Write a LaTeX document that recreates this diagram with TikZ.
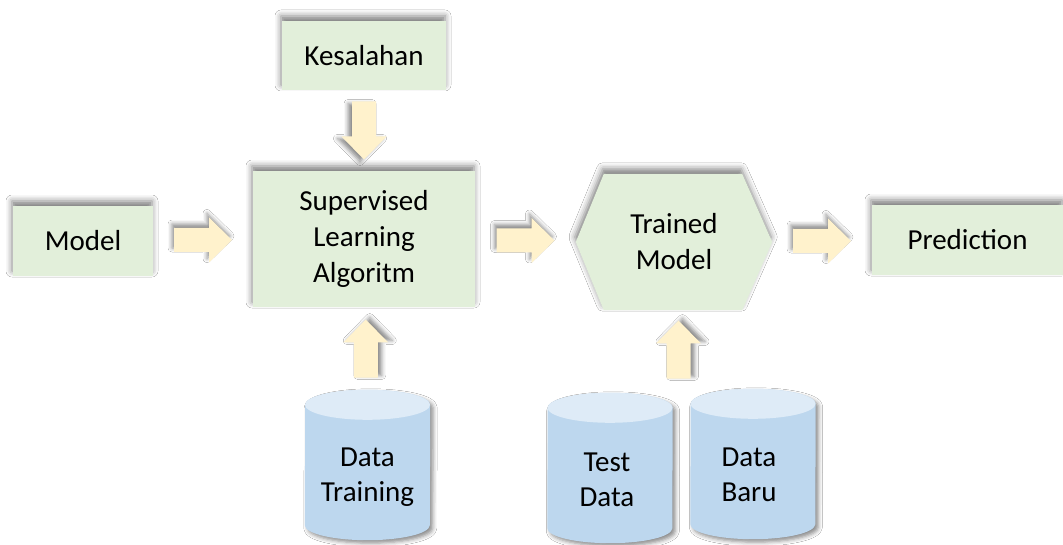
\documentclass[tikz,border=0pt]{standalone}
\usepackage{fontspec}
\setmainfont{Carlito}
\usetikzlibrary{shadows.blur,calc}
\definecolor{boxgreen}{HTML}{E2EFDA}
\definecolor{arrowyellow}{HTML}{FFF2CC}
\definecolor{cylbody}{HTML}{BDD7EE}
\definecolor{cyltop}{HTML}{DEEBF7}
\tikzset{
 gshadow/.style={blur shadow={shadow xshift=-1pt, shadow yshift=5pt, shadow blur radius=6pt, shadow opacity=50}},
 gbox/.style={fill=boxgreen, draw=none, gshadow, font=\fontsize{29}{36}\selectfont, align=center, inner sep=0pt},
 holder/.style={draw=none, fill=none, inner sep=0pt},
 glabel/.style={font=\fontsize{29}{36}\selectfont, align=center, inner sep=0pt},
 dlabel/.style={font=\fontsize{29}{35}\selectfont, align=center, inner sep=0pt},
 pics/blockarr/.style n args={2}{code={
   \fill[arrowyellow, blur shadow={shadow xshift=#1pt, shadow yshift=#2pt, shadow blur radius=4pt, shadow opacity=45}]
     (-29,-12) -- (6,-12) -- (6,-22.5) -- (29,0) -- (6,22.5) -- (6,12) -- (-29,12) -- cycle;}}
}
\newcommand\drawdb[1]{%
  \fill[cylbody, blur shadow={shadow xshift=3pt, shadow yshift=-3pt, shadow blur radius=4pt, shadow opacity=45}]
    ($(#1.south west)+(0,-15)$) arc[start angle=180, end angle=360, x radius=62.5pt, y radius=15pt]
    -- ($(#1.north east)+(0,15)$) arc[start angle=0, end angle=180, x radius=62.5pt, y radius=15pt] -- cycle;
  \fill[cyltop] ($(#1.north)+(0,15)$) ellipse[x radius=62.5pt, y radius=15pt];
}
\begin{document}
\begin{tikzpicture}[x=1pt,y=-1pt]
\useasboundingbox (0,0) rectangle (1063,545);
\fill[white] (0,0) rectangle (1063,545);
% placeholders for drawn shapes
\node[holder, minimum width=196pt, minimum height=136pt] (tm) at (674,242) {};
\node[holder, minimum width=125pt, minimum height=150pt] (dt) at (367.5,465) {};
\node[holder, minimum width=125pt, minimum height=150pt] (td) at (610,468) {};
\node[holder, minimum width=125pt, minimum height=150pt] (db) at (753,464) {};
% shapes
\fill[boxgreen, gshadow] (tm.west) -- ($(tm.north west)+(28,0)$) -- ($(tm.north east)+(-30,0)$) -- (tm.east)
   -- ($(tm.south east)+(-30,0)$) -- ($(tm.south west)+(28,0)$) -- cycle;
\drawdb{dt}
\drawdb{td}
\drawdb{db}
% boxes
\node[gbox, minimum width=164pt, minimum height=69pt] (err) at (364,55.5) {Kesalahan};
\node[gbox, minimum width=140pt, minimum height=70pt] (model) at (83,241) {Model};
\node[gbox, minimum width=222pt, minimum height=136pt] (sla) at (364,239) {Supervised\\Learning\\Algoritm};
\node[gbox, minimum width=191pt, minimum height=70pt] (pred) at (967.5,240) {Prediction};
% labels
\node[glabel] (tml) at (tm.center) {Trained\\Model};
\node[dlabel] (dtl) at ($(dt.center)+(0,12)$) {Data\\Training};
\node[dlabel] (tdl) at ($(td.center)+(-3,12)$) {Test\\Data};
\node[dlabel] (dbl) at ($(db.center)+(-4,11)$) {Data\\Baru};
% block arrows
\pic at ($(model.east)!0.5!(sla.west)$) {blockarr={-2}{4}};
\pic at ($(sla.east)!0.5!(tm.west)$) {blockarr={-2}{4}};
\pic at ($(tm.east)!0.5!(pred.west)$) {blockarr={-2}{4}};
\pic[rotate=-90] at ($(err.south)!0.5!(sla.north)$) {blockarr={-4}{-2}};
\pic[rotate=90] at ($(sla.south)!0.5!(dt.north)$) {blockarr={4}{2}};
\pic[rotate=90] at ($(tm.south)!0.5!(tm.south |- db.north)+(4.5,0)$) {blockarr={4}{2}};
\end{tikzpicture}
\end{document}
